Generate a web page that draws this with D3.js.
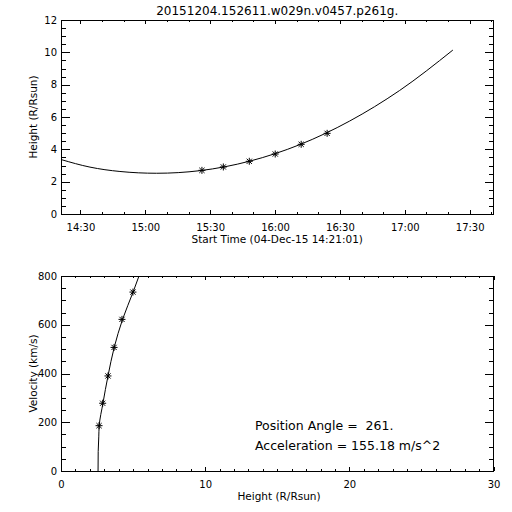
<!DOCTYPE html>
<html>
<head>
<meta charset="utf-8">
<script src="https://cdn.jsdelivr.net/npm/d3@7/dist/d3.min.js"></script>
<style>
  html, body { margin: 0; padding: 0; background: #fff; }
  svg { display: block; }
  text { font-family: "DejaVu Sans", sans-serif; fill: #000; }
</style>
</head>
<body>
<svg id="chart" width="512" height="512"></svg>
<script>
// ---------- data ----------
const titleText = "20151204.152611.w029n.v0457.p261g.";
const startLabel = "Start Time (04-Dec-15 14:21:01)";
const dayStr = "2015-12-04";
const axisStart = "14:21:01";
const axisEnd = "17:41:01";

// measured height-time points (stars)
const obsTimes   = ["15:26:11", "15:36:05", "15:48:05", "16:00:05", "16:12:05", "16:24:05"];
const obsHeights = [2.70, 2.91, 3.26, 3.71, 4.31, 4.99];

// fitted height-time curve
const fitTimes   = ["14:21:01", "14:34:25", "14:48:16", "15:05:13", "15:25:13", "15:48:19", "16:11:25", "16:34:30", "16:57:36", "17:22:13"];
const fitHeights = [3.37, 2.90, 2.63, 2.52, 2.68, 3.27, 4.29, 5.75, 7.64, 10.14];

// velocity-height points (stars)
const velHeights = [2.64, 2.89, 3.26, 3.68, 4.23, 4.99];
const velValues  = [186, 278, 390, 507, 622, 734];

// velocity-height curve
const velCurveHeights = [2.57, 2.58, 2.62, 2.65, 2.91, 3.26, 3.69, 4.27, 5.00, 5.41];
const velCurveValues  = [0, 80, 140, 186, 278, 390, 507, 622, 734, 800];

// ticks
const heightTicks = [0, 2, 4, 6, 8, 10, 12];
const timeTickLabels = ["14:30", "15:00", "15:30", "16:00", "16:30", "17:00", "17:30"];
const velTicks = [0, 200, 400, 600, 800];
const hTicks = [0, 10, 20, 30];

const paLabel = "Position Angle =  261.";
const accLabel = "Acceleration = 155.18 m/s^2";

// ---------- helpers ----------
const toDate = s => new Date(dayStr + "T" + s + "Z");
const svg = d3.select("#chart");
svg.append("rect").attr("width", 512).attr("height", 512).attr("fill", "#fff");

const L = 61, R = 493.5;
const top1 = 20, bot1 = 214;
const top2 = 276, bot2 = 471;

function star(g, x, y) {
  const r = 3.5, d = 2.6;
  g.append("path")
    .attr("d", `M${x-r},${y}L${x+r},${y}M${x},${y-r}L${x},${y+r}M${x-d},${y-d}L${x+d},${y+d}M${x-d},${y+d}L${x+d},${y-d}`)
    .attr("stroke", "#000").attr("stroke-width", 1).attr("fill", "none");
}

function styleAxis(sel, fs) {
  sel.select(".domain").remove();
  sel.selectAll("line").attr("stroke", "#000").attr("shape-rendering", "crispEdges");
  sel.selectAll("text").attr("font-family", "DejaVu Sans, sans-serif").attr("font-size", fs).attr("fill", "#000");
}

// ---------- top panel ----------
const x1 = d3.scaleUtc().domain([toDate(axisStart), toDate(axisEnd)]).range([L, R]);
const y1 = d3.scaleLinear().domain([0, 12]).range([bot1, top1]);

const majorTimes = timeTickLabels.map(toDate);
const minorTimes = d3.utcMinute.every(10).range(toDate(axisStart), toDate(axisEnd))
  .filter(d => !majorTimes.some(m => +m === +d));
const tfmt = d3.utcFormat("%H:%M");

const g1 = svg.append("g");
// bottom
styleAxis(g1.append("g").attr("transform", `translate(0,${bot1})`)
  .call(d3.axisBottom(x1).tickValues(majorTimes).tickFormat(tfmt).tickSizeInner(-4).tickSizeOuter(0).tickPadding(10)), 10);
styleAxis(g1.append("g").attr("transform", `translate(0,${bot1})`)
  .call(d3.axisBottom(x1).tickValues(minorTimes).tickFormat("").tickSizeInner(-2).tickSizeOuter(0)), 10);
// top
styleAxis(g1.append("g").attr("transform", `translate(0,${top1})`)
  .call(d3.axisTop(x1).tickValues(majorTimes).tickFormat("").tickSizeInner(-4).tickSizeOuter(0)), 10);
styleAxis(g1.append("g").attr("transform", `translate(0,${top1})`)
  .call(d3.axisTop(x1).tickValues(minorTimes).tickFormat("").tickSizeInner(-2).tickSizeOuter(0)), 10);
// left / right
const hMinor = d3.range(0, 12.01, 0.5).filter(v => v % 2 !== 0);
styleAxis(g1.append("g").attr("transform", `translate(${L},0)`)
  .call(d3.axisLeft(y1).tickValues(heightTicks).tickFormat(d3.format("d")).tickSizeInner(-9).tickSizeOuter(0).tickPadding(4)), 10);
styleAxis(g1.append("g").attr("transform", `translate(${L},0)`)
  .call(d3.axisLeft(y1).tickValues(hMinor).tickFormat("").tickSizeInner(-4.5).tickSizeOuter(0)), 10);
styleAxis(g1.append("g").attr("transform", `translate(${R},0)`)
  .call(d3.axisRight(y1).tickValues(heightTicks).tickFormat("").tickSizeInner(-9).tickSizeOuter(0)), 10);
styleAxis(g1.append("g").attr("transform", `translate(${R},0)`)
  .call(d3.axisRight(y1).tickValues(hMinor).tickFormat("").tickSizeInner(-4.5).tickSizeOuter(0)), 10);

g1.append("rect").attr("x", L).attr("y", top1).attr("width", R - L).attr("height", bot1 - top1)
  .attr("fill", "none").attr("stroke", "#000").attr("shape-rendering", "crispEdges");

const fitData = fitTimes.map((t, i) => [toDate(t), fitHeights[i]]);
g1.append("path").datum(fitData)
  .attr("d", d3.line().x(d => x1(d[0])).y(d => y1(d[1])).curve(d3.curveMonotoneX))
  .attr("fill", "none").attr("stroke", "#000").attr("stroke-width", 1);
obsTimes.forEach((t, i) => star(g1, x1(toDate(t)), y1(obsHeights[i])));

svg.append("text").attr("x", (L + R) / 2).attr("y", 15).attr("text-anchor", "middle")
  .attr("font-size", 12).text(titleText);
svg.append("text").attr("x", (L + R) / 2).attr("y", 243).attr("text-anchor", "middle")
  .attr("font-size", 10.5).text(startLabel);
svg.append("text").attr("transform", `translate(37,${(top1 + bot1) / 2}) rotate(-90)`)
  .attr("text-anchor", "middle").attr("font-size", 10.5).text("Height (R/Rsun)");

// ---------- bottom panel ----------
const x2 = d3.scaleLinear().domain([0, 30]).range([L, R]);
const y2 = d3.scaleLinear().domain([0, 800]).range([bot2, top2]);
const g2 = svg.append("g");
const xMinor2 = d3.range(0, 31).filter(v => v % 10 !== 0);
const yMinor2 = d3.range(0, 801, 50).filter(v => v % 200 !== 0);

styleAxis(g2.append("g").attr("transform", `translate(0,${bot2})`)
  .call(d3.axisBottom(x2).tickValues(hTicks).tickFormat(d3.format("d")).tickSizeInner(-4).tickSizeOuter(0).tickPadding(10)), 10);
styleAxis(g2.append("g").attr("transform", `translate(0,${bot2})`)
  .call(d3.axisBottom(x2).tickValues(xMinor2).tickFormat("").tickSizeInner(-2).tickSizeOuter(0)), 10);
styleAxis(g2.append("g").attr("transform", `translate(0,${top2})`)
  .call(d3.axisTop(x2).tickValues(hTicks).tickFormat("").tickSizeInner(-4).tickSizeOuter(0)), 10);
styleAxis(g2.append("g").attr("transform", `translate(0,${top2})`)
  .call(d3.axisTop(x2).tickValues(xMinor2).tickFormat("").tickSizeInner(-2).tickSizeOuter(0)), 10);
styleAxis(g2.append("g").attr("transform", `translate(${L},0)`)
  .call(d3.axisLeft(y2).tickValues(velTicks).tickFormat(d3.format("d")).tickSizeInner(-9).tickSizeOuter(0).tickPadding(4)), 10);
styleAxis(g2.append("g").attr("transform", `translate(${L},0)`)
  .call(d3.axisLeft(y2).tickValues(yMinor2).tickFormat("").tickSizeInner(-4.5).tickSizeOuter(0)), 10);
styleAxis(g2.append("g").attr("transform", `translate(${R},0)`)
  .call(d3.axisRight(y2).tickValues(velTicks).tickFormat("").tickSizeInner(-9).tickSizeOuter(0)), 10);
styleAxis(g2.append("g").attr("transform", `translate(${R},0)`)
  .call(d3.axisRight(y2).tickValues(yMinor2).tickFormat("").tickSizeInner(-4.5).tickSizeOuter(0)), 10);

g2.append("rect").attr("x", L).attr("y", top2).attr("width", R - L).attr("height", bot2 - top2)
  .attr("fill", "none").attr("stroke", "#000").attr("shape-rendering", "crispEdges");

const velCurve = velCurveHeights.map((h, i) => [h, velCurveValues[i]]);
g2.append("path").datum(velCurve)
  .attr("d", d3.line().x(d => x2(d[0])).y(d => y2(d[1])).curve(d3.curveMonotoneY))
  .attr("fill", "none").attr("stroke", "#000").attr("stroke-width", 1);
velHeights.forEach((h, i) => star(g2, x2(h), y2(velValues[i])));

svg.append("text").attr("x", 279).attr("y", 500).attr("text-anchor", "middle")
  .attr("font-size", 10.5).text("Height (R/Rsun)");
svg.append("text").attr("transform", `translate(37,${(top2 + bot2) / 2}) rotate(-90)`)
  .attr("text-anchor", "middle").attr("font-size", 10.5).text("Velocity (km/s)");

svg.append("text").attr("x", 255).attr("y", 429.5).attr("font-size", 12.5)
  .attr("xml:space", "preserve").style("white-space", "pre").text(paLabel);
svg.append("text").attr("x", 255).attr("y", 450).attr("font-size", 12.5)
  .style("white-space", "pre").text(accLabel);
</script>
</body>
</html>
